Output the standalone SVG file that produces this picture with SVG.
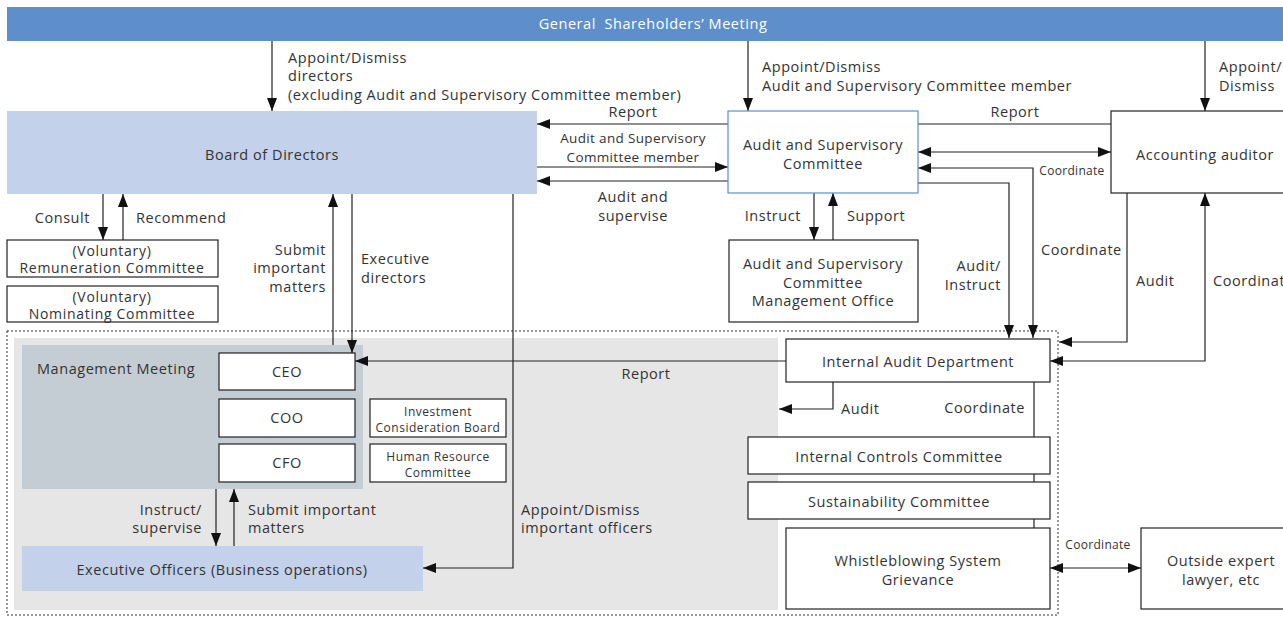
<svg xmlns="http://www.w3.org/2000/svg" width="1283" height="617" viewBox="0 0 1283 617">
<style>
text{font-family:"Open Sans","Noto Sans",sans-serif;font-size:14.5px;letter-spacing:0.55px;fill:#333}
.c{text-anchor:middle}
.e{text-anchor:end}
.s{font-size:12px;letter-spacing:0.3px}
.xs{font-size:12px;letter-spacing:0.5px}
.m{font-size:14px;letter-spacing:0.7px}
.n{font-size:13.5px;letter-spacing:0.35px}
.w{fill:#fff}
.box{fill:#fff;stroke:#222;stroke-width:1.2}
.ln{fill:none;stroke:#222;stroke-width:1.2}
.a{marker-end:url(#ah)}
.b{marker-start:url(#ah);marker-end:url(#ah)}
</style>
<defs>
<marker id="ah" viewBox="0 0 13 10" refX="13" refY="5" markerWidth="13" markerHeight="10" orient="auto-start-reverse" markerUnits="userSpaceOnUse"><path d="M0,0 L13,5 L0,10 z" fill="#111"/></marker>
<clipPath id="vp"><rect x="0" y="0" width="1283" height="617"/></clipPath>
</defs>

<g id="background">
<rect x="7" y="331" width="1051" height="284" fill="none" stroke="#333" stroke-width="1" stroke-dasharray="2,2"/>
<rect x="14" y="338" width="764" height="272" fill="#e6e6e6"/>
</g>

<g id="management-meeting">
<rect x="22" y="345" width="341" height="144" fill="#c5cdd4"/>
<text x="37" y="374">Management Meeting</text>
</g>

<g id="connectors">
<path class="ln a" d="M272,41 V111"/>
<path class="ln a" d="M748,41 V111"/>
<path class="ln a" d="M1205,41 V111"/>
<path class="ln a" d="M1111,124 H537"/>
<path class="ln a" d="M537,167 H728"/>
<path class="ln a" d="M728,181 H537"/>
<path class="ln b" d="M918,152 H1111"/>
<path class="ln b" d="M918,168 H1033 V338"/>
<path class="ln a" d="M918,183 H1009 V338"/>
<path class="ln a" d="M1127,193 V342 H1059"/>
<path class="ln b" d="M1205,193 V361 H1050"/>
<path class="ln a" d="M814,193 V240"/>
<path class="ln a" d="M833,240 V193"/>
<path class="ln a" d="M103,194 V240"/>
<path class="ln a" d="M123,240 V194"/>
<path class="ln a" d="M333,345 V194"/>
<path class="ln a" d="M352,194 V353"/>
<path class="ln a" d="M513,194 V568 H423"/>
<path class="ln a" d="M786,361 H355"/>
<path class="ln a" d="M833,382 V409 H779"/>
<path class="ln" d="M1034,382 V528"/>
<path class="ln a" d="M216,489 V546"/>
<path class="ln a" d="M234,546 V489"/>
<path class="ln b" d="M1050,568 H1141"/>
</g>

<g id="connector-labels">
<text x="288" y="63">Appoint/Dismiss</text>
<text x="288" y="81">directors</text>
<text x="288" y="100">(excluding Audit and Supervisory Committee member)</text>
<text x="762" y="72">Appoint/Dismiss</text>
<text x="762" y="91">Audit and Supervisory Committee member</text>
<text x="1219" y="72">Appoint/</text>
<text x="1219" y="91">Dismiss</text>
<text class="c" x="633" y="117">Report</text>
<text class="c" x="1015" y="117">Report</text>
<text class="c n" x="633" y="143">Audit and Supervisory</text>
<text class="c n" x="633" y="162">Committee member</text>
<text class="c" x="633" y="202">Audit and</text>
<text class="c" x="633" y="221">supervise</text>
<text class="c s" x="1072" y="175">Coordinate</text>
<text class="e" x="801" y="221">Instruct</text>
<text x="847" y="221">Support</text>
<text class="e" x="1001" y="271">Audit/</text>
<text class="e" x="1001" y="290">Instruct</text>
<text x="1041" y="255">Coordinate</text>
<text x="1136" y="286">Audit</text>
<text x="1213" y="286" clip-path="url(#vp)">Coordinate</text>
<text class="e" x="90" y="223">Consult</text>
<text x="136" y="223">Recommend</text>
<text class="e" x="326" y="255">Submit</text>
<text class="e" x="326" y="273">important</text>
<text class="e" x="326" y="292">matters</text>
<text x="361" y="264">Executive</text>
<text x="361" y="283">directors</text>
<text class="c" x="646" y="379">Report</text>
<text class="e" x="202" y="515">Instruct/</text>
<text class="e" x="202" y="533">supervise</text>
<text x="248" y="515">Submit important</text>
<text x="248" y="533">matters</text>
<text x="521" y="515">Appoint/Dismiss</text>
<text x="521" y="533">important officers</text>
<text x="841" y="414">Audit</text>
<text class="e" x="1025" y="413">Coordinate</text>
<text class="c s" x="1098" y="549">Coordinate</text>
</g>

<g id="shareholders-meeting">
<rect x="7" y="7" width="1276" height="34" fill="#5e8fca"/>
<text class="c w" x="653" y="29">General&#160; Shareholders’ Meeting</text>
</g>

<g id="board-of-directors">
<rect x="7" y="111" width="530" height="83" fill="#c3d1ea"/>
<text class="c" x="272" y="160">Board of Directors</text>
</g>

<g id="audit-supervisory-committee">
<rect x="728" y="111" width="190" height="82" fill="#fff" stroke="#5e8fca" stroke-width="1.2"/>
<text class="c" x="823" y="150">Audit and Supervisory</text>
<text class="c" x="823" y="169">Committee</text>
</g>

<g id="accounting-auditor">
<rect class="box" x="1111" y="111" width="180" height="82"/>
<text class="c" x="1205" y="160">Accounting auditor</text>
</g>

<g id="asc-management-office">
<rect class="box" x="729" y="240" width="189" height="82"/>
<text class="c" x="823" y="269">Audit and Supervisory</text>
<text class="c" x="823" y="288">Committee</text>
<text class="c" x="823" y="306">Management Office</text>
</g>

<g id="remuneration-committee">
<rect class="box" x="7" y="240" width="211" height="37"/>
<text class="c m" x="112" y="256">(Voluntary)</text>
<text class="c m" x="112" y="273">Remuneration Committee</text>
</g>

<g id="nominating-committee">
<rect class="box" x="7" y="286" width="211" height="36"/>
<text class="c m" x="112" y="302">(Voluntary)</text>
<text class="c m" x="112" y="319">Nominating Committee</text>
</g>

<g id="ceo">
<rect class="box" x="219" y="353" width="136" height="37"/>
<text class="c" x="287" y="377">CEO</text>
</g>
<g id="coo">
<rect class="box" x="219" y="399" width="136" height="38"/>
<text class="c" x="287" y="423">COO</text>
</g>
<g id="cfo">
<rect class="box" x="219" y="444" width="136" height="38"/>
<text class="c" x="287" y="468">CFO</text>
</g>

<g id="investment-board">
<rect class="box" x="370" y="399" width="136" height="38"/>
<text class="c xs" x="438" y="416">Investment</text>
<text class="c xs" x="438" y="432">Consideration Board</text>
</g>
<g id="hr-committee">
<rect class="box" x="370" y="444" width="136" height="38"/>
<text class="c xs" x="438" y="461">Human Resource</text>
<text class="c xs" x="438" y="477">Committee</text>
</g>

<g id="executive-officers">
<rect x="22" y="546" width="401" height="45" fill="#c3d1ea"/>
<text class="c" x="222" y="575">Executive Officers (Business operations)</text>
</g>

<g id="internal-audit">
<rect class="box" x="786" y="339" width="264" height="43"/>
<text class="c" x="918" y="367">Internal Audit Department</text>
</g>
<g id="internal-controls">
<rect class="box" x="748" y="437" width="302" height="37"/>
<text class="c" x="899" y="462">Internal Controls Committee</text>
</g>
<g id="sustainability">
<rect class="box" x="748" y="482" width="302" height="37"/>
<text class="c" x="899" y="507">Sustainability Committee</text>
</g>
<g id="whistleblowing">
<rect class="box" x="786" y="528" width="264" height="81"/>
<text class="c" x="918" y="566">Whistleblowing System</text>
<text class="c" x="918" y="585">Grievance</text>
</g>
<g id="outside-expert">
<rect class="box" x="1141" y="528" width="150" height="81"/>
<text class="c" x="1221" y="566">Outside expert</text>
<text class="c" x="1221" y="585">lawyer, etc</text>
</g>
</svg>
